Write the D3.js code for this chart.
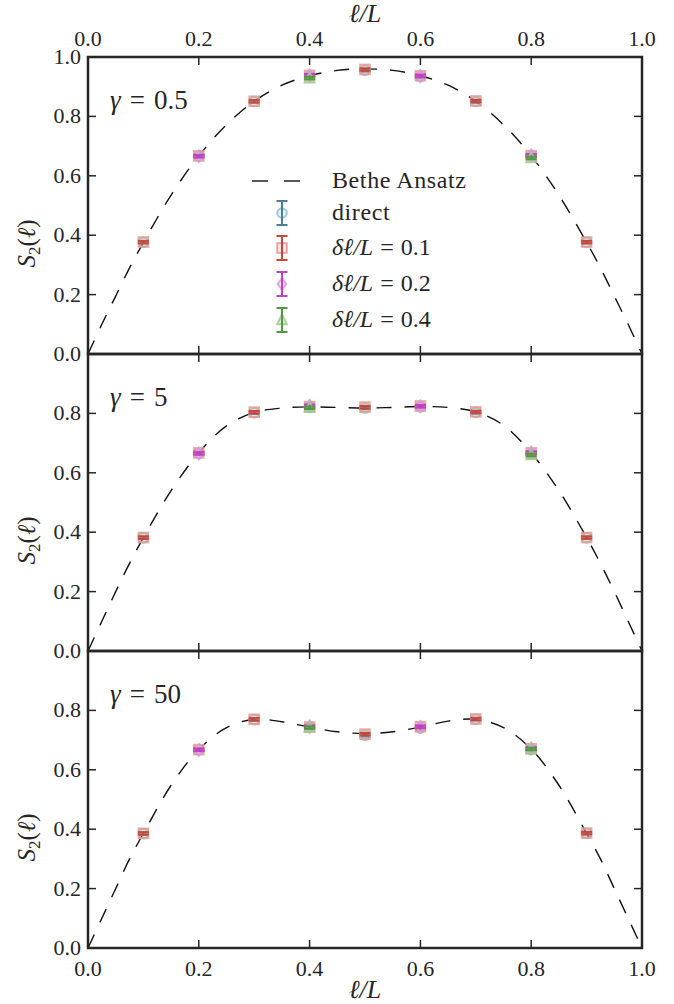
<!DOCTYPE html>
<html><head><meta charset="utf-8">
<script src="https://cdn.jsdelivr.net/npm/d3@7"></script>
<style>body{margin:0;background:#fff}svg{display:block}text{font-family:"Liberation Serif","Times New Roman",serif;fill:#262626}</style>
</head><body><svg id="c" width="674" height="1004"></svg>
<script>
// ---------- data ----------
const xTicks = [0.0, 0.2, 0.4, 0.6, 0.8, 1.0];
const yTicks = [0.0, 0.2, 0.4, 0.6, 0.8, 1.0];
const gammaLabels = ["0.5", "5", "50"];
const seriesNames = ["direct", "δℓ/L = 0.1", "δℓ/L = 0.2", "δℓ/L = 0.4"];

const xCurve = [0, 0.025, 0.05, 0.075, 0.1, 0.15, 0.2, 0.25, 0.3, 0.35, 0.4, 0.45, 0.5,
                0.55, 0.6, 0.65, 0.7, 0.75, 0.8, 0.85, 0.9, 0.925, 0.95, 0.975, 1.0];
const betheG05 = [0, 0.10, 0.195, 0.29, 0.376, 0.535, 0.667, 0.772, 0.851, 0.905, 0.937, 0.955, 0.960,
                  0.955, 0.937, 0.905, 0.851, 0.772, 0.667, 0.535, 0.376, 0.29, 0.195, 0.10, 0];
const betheG5  = [0, 0.10, 0.20, 0.295, 0.382, 0.54, 0.667, 0.758, 0.803, 0.818, 0.822, 0.820, 0.818,
                  0.820, 0.823, 0.820, 0.805, 0.760, 0.667, 0.54, 0.382, 0.295, 0.20, 0.10, 0];
const betheG50 = [0, 0.10, 0.20, 0.30, 0.386, 0.548, 0.668, 0.742, 0.770, 0.762, 0.744, 0.728, 0.722,
                  0.728, 0.744, 0.764, 0.770, 0.742, 0.670, 0.548, 0.386, 0.30, 0.20, 0.10, 0];

const xAll = [0.1, 0.2, 0.3, 0.4, 0.5, 0.6, 0.7, 0.8, 0.9];
const xD02 = [0.2, 0.4, 0.6, 0.8];
const xD04 = [0.4, 0.8];

const directG05 = [0.376, 0.666, 0.850, 0.936, 0.955, 0.934, 0.850, 0.667, 0.376];
const d01G05    = [0.377, 0.667, 0.851, 0.938, 0.958, 0.937, 0.852, 0.668, 0.377];
const d02G05    = [0.666, 0.939, 0.936, 0.669];
const d04G05    = [0.929, 0.660];

const directG5  = [0.381, 0.665, 0.802, 0.820, 0.818, 0.822, 0.803, 0.663, 0.381];
const d01G5     = [0.382, 0.667, 0.804, 0.823, 0.821, 0.825, 0.805, 0.667, 0.382];
const d02G5     = [0.665, 0.826, 0.824, 0.668];
const d04G5     = [0.819, 0.660];

const directG50 = [0.385, 0.667, 0.769, 0.742, 0.716, 0.740, 0.770, 0.668, 0.386];
const d01G50    = [0.386, 0.668, 0.770, 0.744, 0.720, 0.745, 0.771, 0.671, 0.387];
const d02G50    = [0.667, 0.746, 0.745, 0.672];
const d04G50    = [0.742, 0.670];

const errVal = 0.004;

// ---------- styling ----------
const barColors  = ["#4a7f94", "#c9473a", "#c13fc9", "#4f9a3e"];
const markColors = ["#8fc1d8", "#e39a90", "#dc95e2", "#9ccb8e"];
const markShapes = ["circle", "square", "diamond", "triangle"];

const panels = [
  {g: gammaLabels[0], bethe: betheG05, series: [[xAll, directG05], [xAll, d01G05], [xD02, d02G05], [xD04, d04G05]]},
  {g: gammaLabels[1], bethe: betheG5,  series: [[xAll, directG5],  [xAll, d01G5],  [xD02, d02G5],  [xD04, d04G5]]},
  {g: gammaLabels[2], bethe: betheG50, series: [[xAll, directG50], [xAll, d01G50], [xD02, d02G50], [xD04, d04G50]]}
];

const svg = d3.select("#c");
const L = 88, R = 642, T0 = 57, PH = 297;
const x = d3.scaleLinear().domain([0, 1]).range([L, R]);

function drawMarker(g, shape, cx, cy, color) {
  let el;
  const s = 4.8;
  if (shape === "circle") el = g.append("circle").attr("cx", cx).attr("cy", cy).attr("r", s);
  else if (shape === "square") el = g.append("rect").attr("x", cx - s).attr("y", cy - s).attr("width", 2*s).attr("height", 2*s);
  else if (shape === "diamond") el = g.append("path").attr("d", `M${cx},${cy-s-1}L${cx+s-0.5},${cy}L${cx},${cy+s+1}L${cx-s+0.5},${cy}Z`);
  else el = g.append("path").attr("d", `M${cx},${cy-s-1}L${cx+s},${cy+s-0.5}L${cx-s},${cy+s-0.5}Z`);
  el.attr("fill", color).attr("fill-opacity", 0.2).attr("stroke", color).attr("stroke-width", 2).attr("stroke-opacity", 0.85);
}
function drawErr(g, cx, y1, y2, color) {
  g.append("line").attr("x1", cx).attr("x2", cx).attr("y1", y1).attr("y2", y2).attr("stroke", color).attr("stroke-width", 2);
  [y1, y2].forEach(yy => g.append("line").attr("x1", cx - 5.5).attr("x2", cx + 5.5).attr("y1", yy).attr("y2", yy)
    .attr("stroke", color).attr("stroke-width", 2));
}
function eqText(t, lhsItalic, rhs, gap) {
  t.append("tspan").attr("font-style", "italic").text(lhsItalic);
  t.append("tspan").attr("dx", gap).text("=");
  t.append("tspan").attr("dx", gap).text(rhs);
}

panels.forEach((p, i) => {
  const top = T0 + i * PH, bot = top + PH;
  const y = d3.scaleLinear().domain([0, 1]).range([bot, top]);
  const g = svg.append("g");

  // bethe curve
  const line = d3.line().x((d, k) => x(xCurve[k])).y(d => y(d)).curve(d3.curveCatmullRom.alpha(0.5));
  g.append("path").datum(p.bethe).attr("d", line).attr("fill", "none")
    .attr("stroke", "#111").attr("stroke-width", 1.4).attr("stroke-dasharray", "15,13");

  // series
  p.series.forEach((s, si) => {
    const [xs, vs] = s;
    const sg = g.append("g");
    vs.forEach((v, k) => drawMarker(sg, markShapes[si], x(xs[k]), y(v), markColors[si]));
    vs.forEach((v, k) => drawErr(sg, x(xs[k]), y(v + errVal), y(v - errVal), barColors[si]));
  });

  // ticks (inward) on all four sides
  const tk = g.append("g").attr("stroke", "#262626").attr("stroke-width", 1.5);
  xTicks.forEach(t => {
    tk.append("line").attr("x1", x(t)).attr("x2", x(t)).attr("y1", top).attr("y2", top + 8);
    tk.append("line").attr("x1", x(t)).attr("x2", x(t)).attr("y1", bot).attr("y2", bot - 8);
  });
  yTicks.forEach(t => {
    tk.append("line").attr("x1", L).attr("x2", L + 8).attr("y1", y(t)).attr("y2", y(t));
    tk.append("line").attr("x1", R).attr("x2", R - 8).attr("y1", y(t)).attr("y2", y(t));
  });

  // y tick labels
  const yl = i === 0 ? yTicks : yTicks.slice(0, 5);
  yl.forEach(t => {
    g.append("text").attr("x", L - 7).attr("y", y(t) + 7).attr("text-anchor", "end")
      .attr("font-size", 22).text(d3.format(".1f")(t));
  });

  // frame
  g.append("rect").attr("x", L).attr("y", top).attr("width", R - L).attr("height", PH)
    .attr("fill", "none").attr("stroke", "#262626").attr("stroke-width", 2.5);

  // gamma label
  const gt = g.append("text").attr("x", 110).attr("y", top + 52).attr("font-size", 27);
  eqText(gt, "γ", p.g, 9);

  // y axis label
  const yt = g.append("text").attr("transform", `translate(35,${(top + bot) / 2 + 38}) rotate(-90)`)
    .attr("text-anchor", "middle").attr("font-size", 25);
  yt.append("tspan").attr("font-style", "italic").text("S");
  yt.append("tspan").attr("font-size", 17).attr("dy", 5).text("2");
  yt.append("tspan").attr("dy", -5).text("(");
  yt.append("tspan").attr("font-style", "italic").text("ℓ");
  yt.append("tspan").text(")");
});

// x tick labels top and bottom
const bottomY = T0 + 3 * PH;
xTicks.forEach(t => {
  svg.append("text").attr("x", x(t)).attr("y", 46).attr("text-anchor", "middle").attr("font-size", 22).text(d3.format(".1f")(t));
  svg.append("text").attr("x", x(t)).attr("y", bottomY + 28).attr("text-anchor", "middle").attr("font-size", 22).text(d3.format(".1f")(t));
});
[22, 998].forEach(yy => {
  svg.append("text").attr("x", (L + R) / 2).attr("y", yy).attr("text-anchor", "middle")
    .attr("font-size", 26).attr("font-style", "italic").text("ℓ/L");
});

// legend
const lg = svg.append("g");
const rowY = [181, 213, 248, 284, 320];
lg.append("line").attr("x1", 252).attr("x2", 268).attr("y1", rowY[0]).attr("y2", rowY[0]).attr("stroke", "#111").attr("stroke-width", 1.4);
lg.append("line").attr("x1", 284).attr("x2", 300).attr("y1", rowY[0]).attr("y2", rowY[0]).attr("stroke", "#111").attr("stroke-width", 1.4);
lg.append("text").attr("x", 332).attr("y", rowY[0] + 7).attr("font-size", 24).attr("letter-spacing", 0.6).text("Bethe Ansatz");
seriesNames.forEach((n, si) => {
  const cy = rowY[si + 1];
  drawMarker(lg, markShapes[si], 282, cy, markColors[si]);
  drawErr(lg, 282, cy - 12, cy + 12, barColors[si]);
  const t = lg.append("text").attr("x", 332).attr("y", cy + 7).attr("font-size", 24);
  if (si === 0) t.attr("letter-spacing", 0.6).text(n);
  else eqText(t, "δℓ/L", n.slice(7), 7);
});
</script></body></html>
